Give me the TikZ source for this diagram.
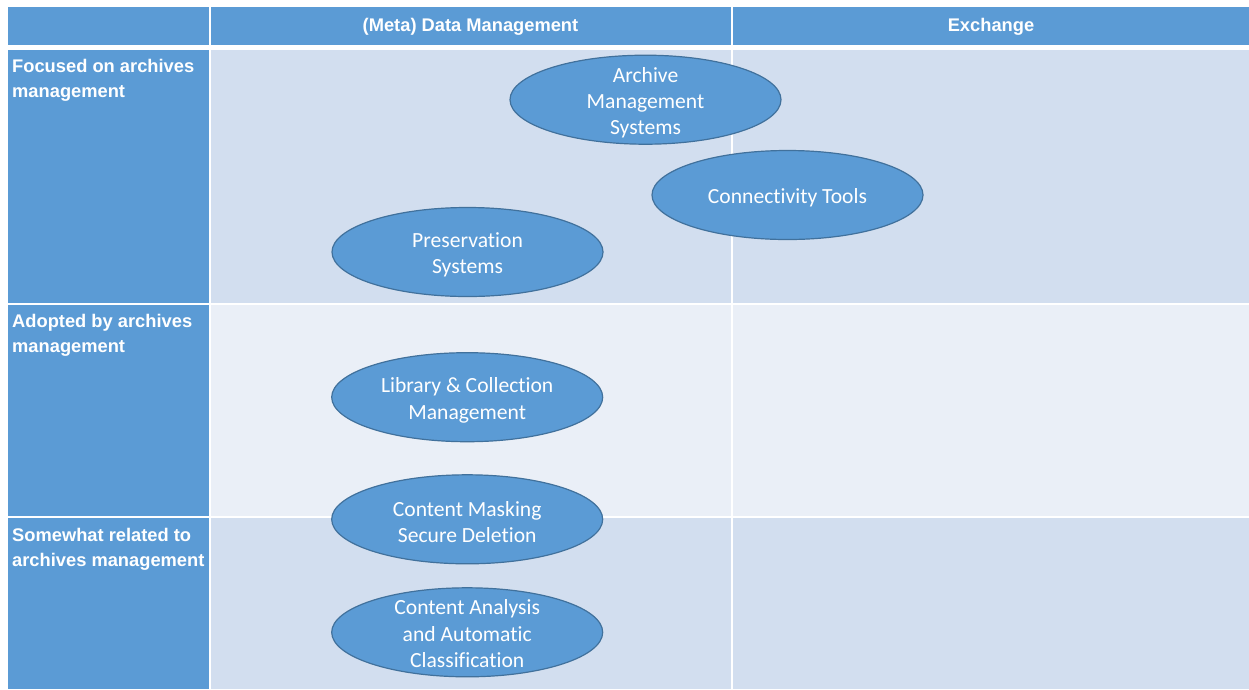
\documentclass[tikz,border=0pt]{standalone}
\usepackage{fontspec}
\setmainfont{Liberation Sans}
\newfontfamily\calib[Ligatures=NoCommon]{Carlito}
\usetikzlibrary{shapes.geometric}
\definecolor{hdr}{HTML}{5B9BD5}
\definecolor{rowA}{HTML}{D2DEEF}
\definecolor{rowB}{HTML}{EAEFF7}
\definecolor{ebord}{HTML}{41719C}
\begin{document}
\begin{tikzpicture}[x=1pt,y=-1pt,
  headcell/.style={fill=hdr},
  darkcell/.style={fill=rowA},
  lightcell/.style={fill=rowB},
  headtext/.style={text=white,inner sep=0pt,anchor=base,font=\bfseries\fontsize{18.3}{22}\selectfont},
  rowtext/.style={text=white,inner sep=0pt,anchor=north west,align=left,font=\bfseries\fontsize{18.3}{24.8}\selectfont},
  blob/.style={ellipse,draw=ebord,line width=1.2pt,fill=hdr,minimum width=271pt,minimum height=89pt,inner sep=0pt},
  blobtext/.style={text=white,inner sep=0pt,align=center,font=\calib\fontsize{21.6}{26.4}\selectfont}
]
\fill[white] (0,0) rectangle (1249,689);
\useasboundingbox (0,0) rectangle (1249,689);
% header row
\fill[headcell] (8,6.5) rectangle (209,45);
\fill[headcell] (211,6.5) rectangle (730.5,45);
\fill[headcell] (732.5,6.5) rectangle (1249,45);
% row 1
\fill[headcell] (8,50) rectangle (209,302.5);
\fill[darkcell] (211,50) rectangle (730.5,302.5);
\fill[darkcell] (732.5,50) rectangle (1249,302.5);
% row 2
\fill[headcell] (8,304.5) rectangle (209,515.5);
\fill[lightcell] (211,304.5) rectangle (730.5,515.5);
\fill[lightcell] (732.5,304.5) rectangle (1249,515.5);
% row 3
\fill[headcell] (8,517.5) rectangle (209,689);
\fill[darkcell] (211,517.5) rectangle (730.5,689);
\fill[darkcell] (732.5,517.5) rectangle (1249,689);
% header texts
\node[headtext] (hmeta) at (470.5,31) {(Meta) Data Management};
\node[headtext] (hexch) at (991,31) {Exchange};
% row labels
\node[rowtext] (rfoc) at (12,59.3) {Focused on archives\\management};
\node[rowtext] (radop) at (12,314.5) {Adopted by archives\\management};
\node[rowtext] (rsome) at (12,528.5) {Somewhat related to\\archives management};
% ellipses
\node[blob] (ams) at (645.5,99.7) {};
\node[blob] (ct) at (787.5,195) {};
\node[blob] (ps) at (467.5,252) {};
\node[blob] (lcm) at (467.2,397.2) {};
\node[blob] (cm) at (467.2,519.3) {};
\node[blob] (ca) at (467.2,632.3) {};
\node[blobtext,yshift=-3pt] (tams) at (ams.center) {Archive\\Management\\Systems};
\node[blobtext,yshift=-2.5pt] (tct) at (ct.center) {Connectivity Tools};
\node[blobtext,yshift=-3pt] (tps) at (ps.center) {Preservation\\Systems};
\node[blobtext,yshift=-3pt] (tlcm) at (lcm.center) {Library \& Collection\\Management};
\node[blobtext,yshift=-2.5pt] (tcm) at (cm.center) {Content Masking\\Secure Deletion};
\node[blobtext,yshift=-1.5pt] (tca) at (ca.center) {Content Analysis\\and Automatic\\Classification};
\end{tikzpicture}
\end{document}
